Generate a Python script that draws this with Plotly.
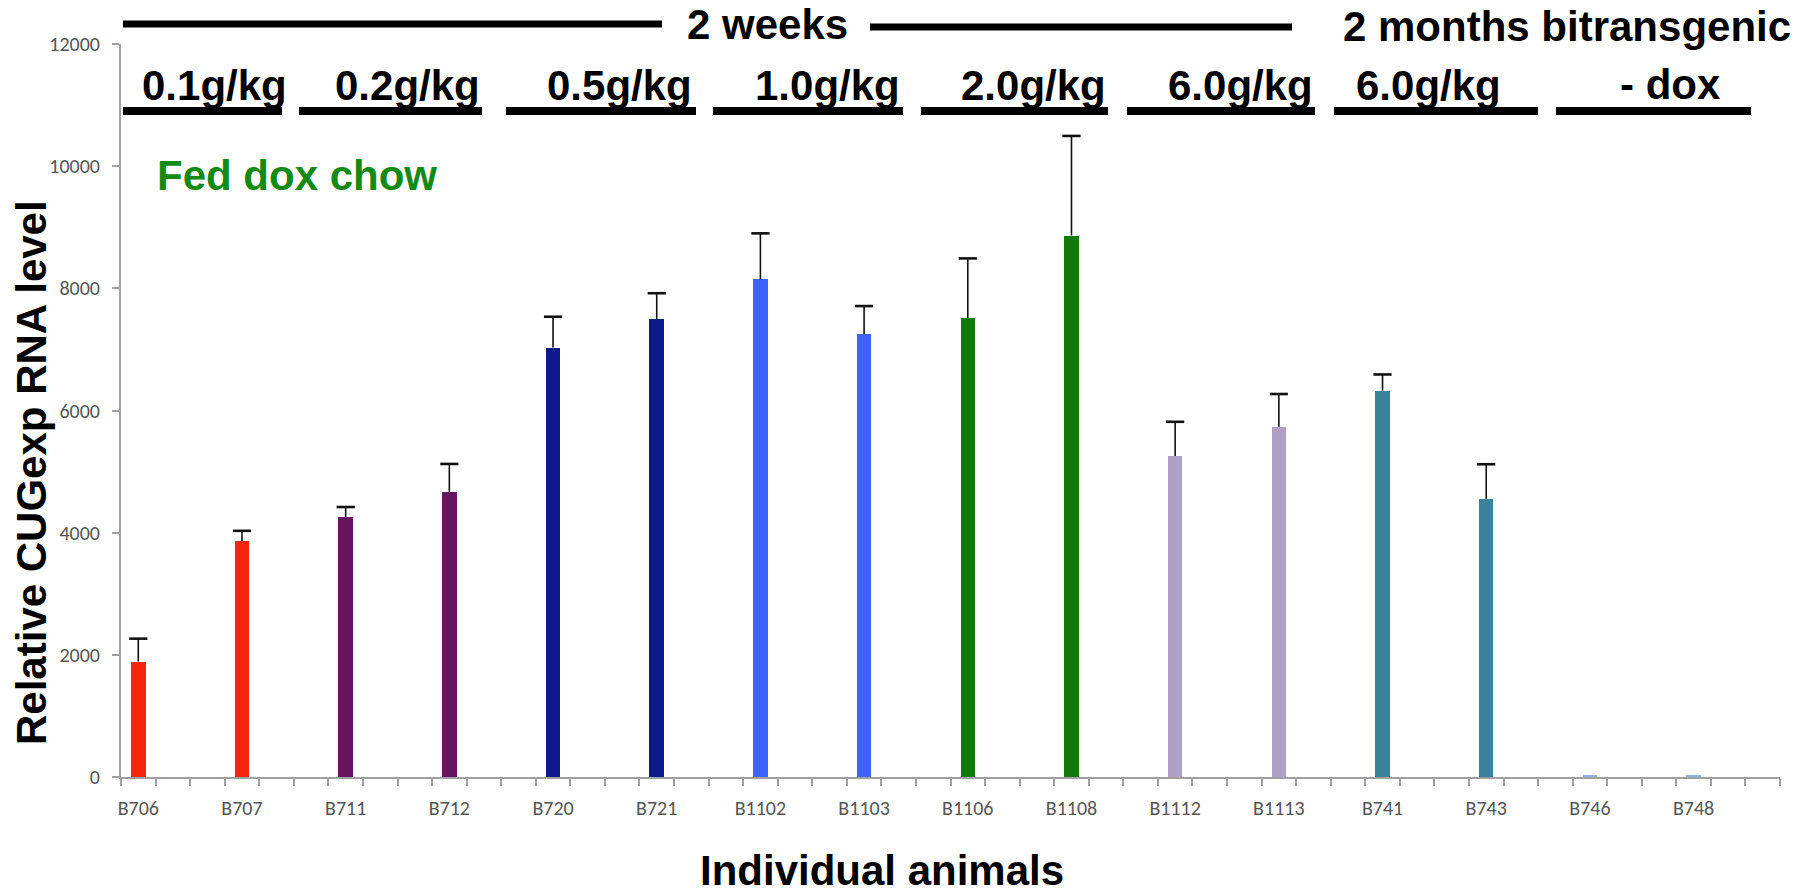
import plotly.graph_objects as go

# ---------------- data ----------------
animals = ["B706", "B707", "B711", "B712", "B720", "B721", "B1102", "B1103",
           "B1106", "B1108", "B1112", "B1113", "B741", "B743", "B746", "B748"]
rna_level = [1890, 3865, 4250, 4665, 7030, 7490, 8145, 7250,
             7515, 8865, 5255, 5735, 6325, 4555, 25, 25]
error_plus = [375, 165, 170, 460, 505, 430, 755, 460,
              975, 1630, 560, 535, 265, 565, 0, 0]
bar_colors = ["#F5260F", "#F5260F", "#651460", "#651460", "#0E1A8C", "#0E1A8C",
              "#3D63FB", "#3D63FB", "#127A0B", "#127A0B", "#B0A0C8", "#B0A0C8",
              "#3A8299", "#3A8299", "#8DB3E2", "#8DB3E2"]
y_ticks = [0, 2000, 4000, 6000, 8000, 10000, 12000]
SLOTS_PER_ANIMAL = 3  # Excel category axis: 3 category slots per animal, label every 3rd

dose_labels = ["0.1g/kg", "0.2g/kg", "0.5g/kg", "1.0g/kg", "2.0g/kg", "6.0g/kg", "6.0g/kg", "- dox"]
period_labels = ["2 weeks", "2 months bitransgenic"]
note_label = "Fed dox chow"
x_title = "Individual animals"
y_title = "Relative CUGexp RNA level"

# ---------------- layout geometry (pixels) ----------------
W, H = 1818, 894
ML, MR, MT, MB = 121, 38, 44, 117
PW, PH = W - ML - MR, H - MT - MB

def px(x):
    return (x - ML) / PW

def py(y):
    return (H - MB - y) / PH

dose_text_pos = [(214, 86), (407, 86), (619, 86), (827, 86), (1033, 86), (1240, 86), (1428, 86), (1670, 85)]
dose_line_pos = [(123, 282), (299, 482), (506, 696), (713, 903), (921, 1108), (1127, 1315), (1334, 1538), (1556, 1751)]
period_text_pos = [(767, 25), (1567, 26)]
period_line_pos = [(123, 662, 24), (870, 1292, 27)]

# ---------------- figure ----------------
xpos = [SLOTS_PER_ANIMAL * i for i in range(len(animals))]
n_slots = SLOTS_PER_ANIMAL * len(animals)

fig = go.Figure()
fig.add_trace(go.Bar(
    x=xpos, y=rna_level, width=0.42,
    marker=dict(color=bar_colors, line=dict(width=0)),
    hovertext=animals, showlegend=False,
))

# upper error bars (from bar top upward), with caps
ex, ey, cx, cy = [], [], [], []
for xv, v, e in zip(xpos, rna_level, error_plus):
    if e > 0:
        ex += [xv, xv, None]
        ey += [v, v + e, None]
        cx.append(xv)
        cy.append(v + e)
fig.add_trace(go.Scatter(x=ex, y=ey, mode="lines",
                         line=dict(color="#111111", width=1.6),
                         showlegend=False, hoverinfo="skip"))
fig.add_trace(go.Scatter(x=cx, y=cy, mode="markers",
                         marker=dict(symbol="line-ew", size=13,
                                     line=dict(color="#111111", width=2.6)),
                         showlegend=False, hoverinfo="skip"))

tick_font = dict(family="Carlito, Calibri, 'Liberation Sans Narrow', 'DejaVu Sans Condensed', 'Roboto Condensed', Roboto, sans-serif",
                 size=20, color="#555555")
axis_col = "#A0A0A0"

fig.update_xaxes(
    range=[-0.5, n_slots - 0.5],
    tickmode="array", tickvals=xpos, ticktext=animals,
    ticks="", showgrid=False, zeroline=False,
    showline=True, linecolor=axis_col, linewidth=2,
    tickfont=tick_font, ticklabelstandoff=12,
    minor=dict(tickmode="array", tickvals=[k - 0.5 for k in range(n_slots + 1)],
               ticks="outside", ticklen=7, tickwidth=1.5, tickcolor=axis_col,
               showgrid=False),
)
fig.update_yaxes(
    range=[0, 12000], tickmode="array", tickvals=y_ticks,
    ticktext=[str(v) for v in y_ticks],
    ticks="outside", ticklen=7, tickwidth=1.5, tickcolor=axis_col,
    showgrid=False, zeroline=False,
    showline=True, linecolor=axis_col, linewidth=2,
    tickfont=tick_font, ticklabelstandoff=8,
)

big_font = dict(family="Arial, 'Liberation Sans', Helvetica, sans-serif", size=42,
                color="#000000", weight="bold")

annotations = []
shapes = []
for txt, (x, y) in zip(period_labels, period_text_pos):
    annotations.append(dict(text=txt, x=px(x), y=py(y), xref="paper", yref="paper",
                            xanchor="center", yanchor="middle", showarrow=False, font=big_font))
for (x0, x1, y) in period_line_pos:
    shapes.append(dict(type="line", xref="paper", yref="paper", x0=px(x0), x1=px(x1),
                       y0=py(y), y1=py(y), line=dict(color="#000000", width=7)))
for txt, (x, y) in zip(dose_labels, dose_text_pos):
    annotations.append(dict(text=txt, x=px(x), y=py(y), xref="paper", yref="paper",
                            xanchor="center", yanchor="middle", showarrow=False, font=big_font))
for (x0, x1) in dose_line_pos:
    shapes.append(dict(type="line", xref="paper", yref="paper", x0=px(x0), x1=px(x1),
                       y0=py(111), y1=py(111), line=dict(color="#000000", width=8)))

annotations.append(dict(text=note_label, x=px(297), y=py(175), xref="paper", yref="paper",
                        xanchor="center", yanchor="middle", showarrow=False,
                        font=dict(big_font, color="#138A13")))
annotations.append(dict(text=x_title, x=px(882), y=py(870), xref="paper", yref="paper",
                        xanchor="center", yanchor="middle", showarrow=False, font=big_font))
annotations.append(dict(text=y_title, x=px(32), y=py(473), xref="paper", yref="paper",
                        xanchor="center", yanchor="middle", showarrow=False, textangle=-90,
                        font=big_font))

fig.update_layout(
    width=W, height=H,
    margin=dict(l=ML, r=MR, t=MT, b=MB, pad=0),
    paper_bgcolor="white", plot_bgcolor="white",
    annotations=annotations, shapes=shapes,
    bargap=0, showlegend=False,
)

fig.write_html("out.html",
               config={"displayModeBar": False},
               post_script="document.body.style.margin='0';document.body.style.overflow='hidden';")
